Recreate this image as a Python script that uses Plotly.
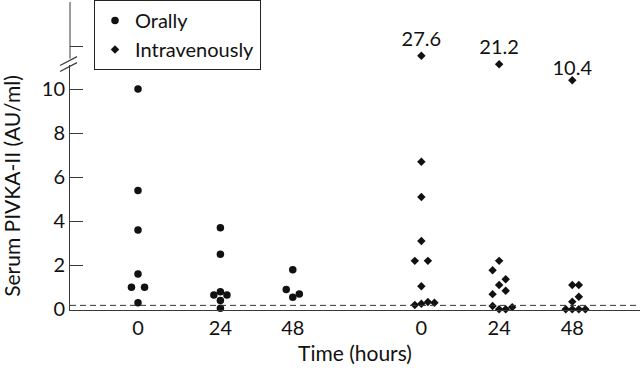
import plotly.graph_objects as go

# ---- data ----
time_labels = ["0", "24", "48", "0", "24", "48"]

oral_0 = [10.0, 5.4, 3.6, 1.6, 1.0, 1.0, 0.3]
oral_24 = [3.7, 2.5, 0.8, 0.65, 0.65, 0.4, 0.05]
oral_48 = [1.8, 0.9, 0.7, 0.55]

iv_0 = [27.6, 6.7, 5.1, 3.1, 2.2, 2.2, 1.05, 0.2, 0.25, 0.33, 0.3]
iv_24 = [21.2, 2.2, 1.77, 1.37, 1.1, 0.84, 0.69, 0.15, 0.0, 0.0, 0.1]
iv_48 = [10.4, 1.1, 1.1, 0.57, 0.35, 0.0, 0.0, 0.0, 0.0]

# beeswarm column slot of each point (left/right of the group centre)
oral_0_slot = [0, 0, 0, 0, -1, 1, 0]
oral_24_slot = [0, 0, 0, -1, 1, 0, 0]
oral_48_slot = [0, -1, 1, 0]
iv_0_slot = [0, 0, 0, 0, -1, 1, 0, -1, 0, 1, 2]
iv_24_slot = [0, 0, -1, 1, 0, 1, -1, -1, 0, 1, 2]
iv_48_slot = [0, 0, 1, 1, 0, -1, 0, 1, 2]

lower_ticks = [0, 2, 4, 6, 8, 10]
upper_ticks = [34.2, 66.6]   # unlabelled ticks on the broken segment
cutoff = 0.18                # dashed reference line
break_at = 11.0              # values above go on the upper (broken) segment

# ---- layout helpers ----
group_pos = [1.0, 2.07, 3.01, 4.68, 5.69, 6.64]
slot_w = 0.085
FONT = "Lato"
INK = "#111111"
AX = "#3a3a3a"

W, H = 640, 368
ml, mr, mt, mb = 70, 0, 0, 58
pw, ph = W - ml - mr, H - mt - mb


def px2paper(px, py):
    return (px - ml) / pw, (H - mb - py) / ph


oral_groups = [(oral_0, oral_0_slot, group_pos[0]),
               (oral_24, oral_24_slot, group_pos[1]),
               (oral_48, oral_48_slot, group_pos[2])]
iv_groups = [(iv_0, iv_0_slot, group_pos[3]),
             (iv_24, iv_24_slot, group_pos[4]),
             (iv_48, iv_48_slot, group_pos[5])]


def split(groups):
    lx, ly, ux, uy = [], [], [], []
    for vals, slots, pos in groups:
        for v, s in zip(vals, slots):
            x = pos + s * slot_w
            if v > break_at:
                ux.append(x); uy.append(v)
            else:
                lx.append(x); ly.append(v)
    return lx, ly, ux, uy


olx, oly, oux, ouy = split(oral_groups)
ilx, ily, iux, iuy = split(iv_groups)

fig = go.Figure()
fig.add_trace(go.Scatter(x=olx, y=oly, mode="markers", name="Orally",
                         marker=dict(symbol="circle", size=7.5, color=INK),
                         cliponaxis=False))
fig.add_trace(go.Scatter(x=ilx, y=ily, mode="markers", name="Intravenously",
                         marker=dict(symbol="diamond", size=6.5, color=INK),
                         cliponaxis=False))

# labelled high values
hi_lx = [x for x, y in zip(ilx, ily) if y > 10]
hi_ly = [y for y in ily if y > 10]
fig.add_trace(go.Scatter(x=hi_lx, y=hi_ly, mode="text",
                         text=[f"{v:.1f}" for v in hi_ly],
                         textposition="top center",
                         textfont=dict(family=FONT, size=20, color=INK),
                         showlegend=False, cliponaxis=False, hoverinfo="skip"))
fig.add_trace(go.Scatter(x=iux, y=iuy, mode="markers+text", yaxis="y2",
                         text=[f"{v:.1f}" for v in iuy],
                         textposition="top center",
                         textfont=dict(family=FONT, size=20, color=INK),
                         marker=dict(symbol="diamond", size=6.5, color=INK),
                         showlegend=False, cliponaxis=False))

fig.add_shape(type="line", xref="paper", yref="y", x0=0, x1=1, y0=cutoff, y1=cutoff,
              line=dict(color="#333333", width=1, dash="6px,4px"))

# upper segment axis line (above the break)
ux0, uy0 = px2paper(70, 57)
ux1, uy1 = px2paper(70, 0)
fig.add_shape(type="line", xref="paper", yref="paper", x0=ux0, y0=uy0, x1=ux1, y1=uy1,
              line=dict(color=AX, width=1))

# axis break marks
for (ax0, ay0), (ax1, ay1) in [((60, 70), (77, 61)), ((60, 64), (77, 55))]:
    x0, y0 = px2paper(ax0, ay0)
    x1, y1 = px2paper(ax1, ay1)
    fig.add_shape(type="line", xref="paper", yref="paper", x0=x0, y0=y0, x1=x1, y1=y1,
                  line=dict(color=AX, width=1.2))

# y-axis title placed as rotated text at the left edge
tx, ty = px2paper(12, 185)
fig.add_annotation(text="Serum PIVKA-II (AU/ml)", xref="paper", yref="paper",
                   x=tx, y=ty, textangle=-90, showarrow=False,
                   xanchor="center", yanchor="middle",
                   font=dict(family=FONT, size=21, color=INK))

lower_top = (H - mb - 63) / ph
upper_bot = (H - mb - 66) / ph
# upper scale: 1.36 px per unit, 27.6 sits at px 54
u_per_px = 6.4 / 8.7
u_lo = 27.6 - (66 - 54) * u_per_px
u_hi = 27.6 + 54 * u_per_px

fig.update_layout(
    width=W, height=H,
    margin=dict(l=ml, r=mr, t=mt, b=mb),
    paper_bgcolor="white", plot_bgcolor="rgba(0,0,0,0)",
    font=dict(family=FONT, size=20, color=INK),
    showlegend=True,
    legend=dict(x=(94 - ml) / pw, y=1.008, xanchor="left", yanchor="top",
                bordercolor="#222222", borderwidth=1, bgcolor="white",
                font=dict(family=FONT, size=20, color=INK),
                itemwidth=30, tracegroupgap=0),
    xaxis=dict(range=[1 - 68 / 77, 1 + 502 / 77], tickvals=group_pos, ticktext=time_labels,
               showline=True, linecolor=AX, linewidth=1, ticks="", showgrid=False,
               zeroline=False,
               title=dict(text="Time (hours)", standoff=8,
                          font=dict(family=FONT, size=21, color=INK)),
               anchor="y", automargin=False),
    yaxis=dict(domain=[0, lower_top], range=[-0.03, 11.11], tickvals=lower_ticks,
               showline=True, linecolor=AX, linewidth=1, ticks="inside", ticklen=13,
               tickcolor=AX, showgrid=False, zeroline=False, automargin=False,
               anchor="x"),
    yaxis2=dict(domain=[upper_bot, 1], range=[u_lo, u_hi], tickvals=upper_ticks,
                showticklabels=False, automargin=False,
                showline=False, ticks="inside", ticklen=13,
                tickcolor=AX, showgrid=False, zeroline=False, anchor="x"),
)

fig.write_html("out.html", config={"displayModeBar": False},
               post_script="document.body.style.margin='0';")
